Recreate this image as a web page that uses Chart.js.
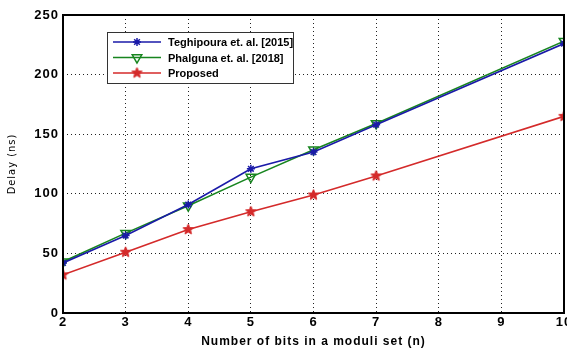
<!DOCTYPE html>
<html lang="en">
<head>
<meta charset="UTF-8">
<title>Delay vs bits</title>
<script src="https://cdn.jsdelivr.net/npm/chart.js@4/dist/chart.umd.min.js"></script>
<style>
  html, body { margin: 0; padding: 0; background: #fff; }
  #wrap { width: 567px; height: 349px; overflow: hidden; }
</style>
<script>
// values
var bits = [2, 3, 4, 5, 6, 7, 10];
var teghipoura = [42, 65, 91, 121, 135, 158, 226];
var phalguna = [43, 67, 90, 114, 137, 159, 228];
var proposed = [32, 51, 70, 85, 99, 115, 165];
var seriesNames = ['Teghipoura et. al. [2015]', 'Phalguna et. al. [2018]', 'Proposed'];
var xTicks = [2, 3, 4, 5, 6, 7, 8, 9, 10];
var yTicks = [0, 50, 100, 150, 200, 250];

function pts(ys) {
  return bits.map(function(x, i) { return { x: x, y: ys[i] }; });
}
</script>
</head>
<body>
<!-- canvas a little wider than the page so the last "10" gets cut like in the figure -->
<div id="wrap"><canvas id="chart" width="571" height="349"></canvas></div>
<script>
var tickFont = { family: 'Liberation Sans, Arial, sans-serif', size: 13, weight: 'bold' };

// filled pentagram marker like matlab 'p'
function makeStar(color, r) {
  var c = document.createElement('canvas');
  var s = Math.ceil(r * 2 + 2);
  c.width = s; c.height = s;
  var g = c.getContext('2d');
  g.translate(s / 2, s / 2);
  g.beginPath();
  for (var i = 0; i < 10; i++) {
    var rad = i % 2 === 0 ? r : r * 0.45;
    var ang = -Math.PI / 2 + i * Math.PI / 5;
    g.lineTo(rad * Math.cos(ang), rad * Math.sin(ang));
  }
  g.closePath();
  g.fillStyle = color;
  g.fill();
  g.strokeStyle = color;
  g.lineWidth = 1;
  g.stroke();
  return c;
}

// the source image is a bit stretched sideways, so axis text gets some spacing
var spacingPlugin = {
  id: 'spacing',
  beforeDraw: function(chart) { chart.ctx.letterSpacing = '1px'; }
};

// box round the plot + legend box inside, MATLAB style
var boxPlugin = {
  id: 'box',
  afterDraw: function(chart) {
    var ctx = chart.ctx, a = chart.chartArea;
    ctx.save();
    ctx.letterSpacing = '0px';
    ctx.strokeStyle = '#000';
    ctx.lineWidth = 2;
    ctx.strokeRect(a.left, a.top, a.right - a.left, a.bottom - a.top);

    // legend
    var lx = 107, ly = 32, lw = 186, lh = 51;
    ctx.fillStyle = '#fff';
    ctx.fillRect(lx, ly, lw, lh);
    ctx.lineWidth = 1;
    ctx.strokeStyle = '#333';
    ctx.strokeRect(lx + 0.5, ly + 0.5, lw, lh);
    chart.data.datasets.forEach(function(ds, i) {
      var y = ly + 10 + i * 15.5;
      ctx.strokeStyle = ds.borderColor;
      ctx.lineWidth = 1.5;
      ctx.beginPath();
      ctx.moveTo(lx + 6, y);
      ctx.lineTo(lx + 54, y);
      ctx.stroke();
      ctx.fillStyle = 'rgba(0,0,0,0)';
      Chart.helpers.drawPoint(ctx, {
        pointStyle: ds.pointStyle,
        rotation: ds.pointRotation || 0,
        radius: ds.pointRadius,
        borderWidth: ds.pointBorderWidth || 1.5
      }, lx + 30, y);
      ctx.fillStyle = '#000';
      ctx.font = 'bold 11px Liberation Sans, Arial, sans-serif';
      ctx.textBaseline = 'middle';
      ctx.fillText(ds.label, lx + 61, y + 1);
    });
    ctx.restore();
    ctx.letterSpacing = '0px';
  }
};

function styleSet(label, data, color, shape, rot, r) {
  return {
    label: label,
    data: pts(data),
    borderColor: color,
    backgroundColor: color,
    borderWidth: 1.6,
    pointStyle: shape,
    pointRotation: rot,
    pointRadius: r,
    pointBorderWidth: 1.5,
    pointBackgroundColor: 'rgba(0,0,0,0)',
    pointBorderColor: color,
    tension: 0
  };
}

var config = {
  type: 'line',
  data: {
    datasets: [
      styleSet(seriesNames[0], teghipoura, '#1a1aa8', 'star', 0, 4),
      styleSet(seriesNames[1], phalguna, '#17851f', 'triangle', 180, 5.5),
      styleSet(seriesNames[2], proposed, '#d42a2a', makeStar('#d42a2a', 5.5), 0, 5.5)
    ]
  },
  options: {
    responsive: false,
    animation: false,
    layout: { padding: { top: 15, right: 0, left: 0, bottom: 0 } },
    plugins: {
      legend: { display: false },
      tooltip: { enabled: false }
    },
    scales: {
      x: {
        type: 'linear',
        min: 2,
        max: 10,
        afterBuildTicks: function(s) { s.ticks = xTicks.map(function(v) { return { value: v }; }); },
        afterFit: function(s) { s.height = 36; s.paddingLeft = 0; s.paddingRight = 0; },
        ticks: { color: '#000', font: tickFont, padding: 2, maxRotation: 0 },
        grid: { color: '#222', lineWidth: 1, drawTicks: false, tickLength: 0 },
        border: { display: false, dash: [1, 3] },
        title: {
          display: true,
          text: 'Number of bits in a moduli set (n)',
          color: '#000',
          font: { family: 'Liberation Sans, Arial, sans-serif', size: 12, weight: 'bold' },
          padding: { top: 0, bottom: 0 }
        }
      },
      y: {
        min: 0,
        max: 250,
        afterBuildTicks: function(s) { s.ticks = yTicks.map(function(v) { return { value: v }; }); },
        afterFit: function(s) { s.width = 63; s.paddingTop = 0; s.paddingBottom = 0; },
        ticks: { color: '#000', font: tickFont, padding: 4 },
        grid: { color: '#222', lineWidth: 1, drawTicks: false },
        border: { display: false, dash: [1, 3] },
        title: {
          display: true,
          text: 'Delay (ns)',
          color: '#000',
          font: { family: 'Liberation Sans Narrow, DejaVu Sans Condensed, sans-serif', size: 11 },
          padding: { top: 6, bottom: 4 }
        }
      }
    }
  },
  plugins: [spacingPlugin, boxPlugin]
};

new Chart(document.getElementById('chart').getContext('2d'), config);
</script>
</body>
</html>
